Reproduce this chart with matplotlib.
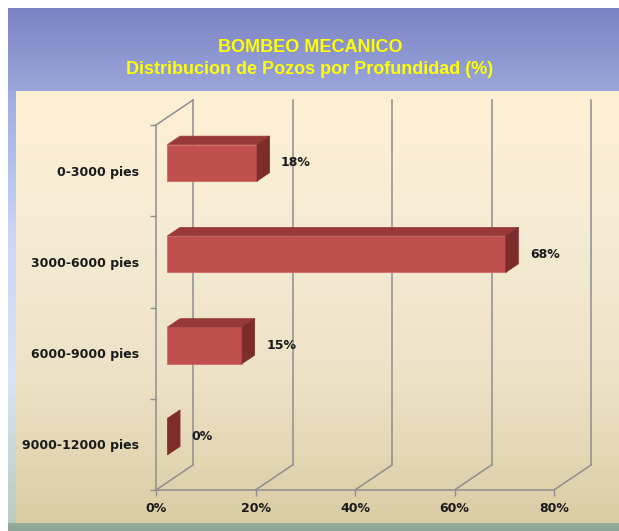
import numpy as np
import matplotlib
matplotlib.use("Agg")
import matplotlib.pyplot as plt
from matplotlib.colors import LinearSegmentedColormap
from matplotlib.patches import Polygon

# ==========================================
# Data
# ==========================================

categories = [
    "0-3000 pies",
    "3000-6000 pies",
    "6000-9000 pies",
    "9000-12000 pies"
]

values = [18, 68, 15, 0]

value_labels = ["18%", "68%", "15%", "0%"]

x_ticks = [0, 20, 40, 60, 80]
x_tick_labels = ["0%", "20%", "40%", "60%", "80%"]

title_1 = "BOMBEO MECANICO"
title_2 = "Distribucion de Pozos por Profundidad (%)"

# ==========================================
# Style
# ==========================================

W, H = 619, 531
DPI = 100

FRONT = "#C0504D"
TOP = "#973937"
SIDE = "#7D2C2A"
GRID = "#8E8E8E"
TXT = "#1A1A1A"

# depth of the 3d box in pixels (right, up)
DEPTH_PX = (37, 25)
BAR_F0 = 0.31
BAR_F1 = 0.65
BAR_H = 0.2

fig = plt.figure(figsize=(W / DPI, H / DPI), dpi=DPI)
fig.patch.set_facecolor("white")

# ==========================================
# Background (slide frame)
# ==========================================

bg = fig.add_axes([0, 0, 1, 1], zorder=-5)
bg.axis("off")


def vgrad(colors, extent):
    cmap = LinearSegmentedColormap.from_list("g", colors)
    grad = np.linspace(0, 1, 256).reshape(-1, 1)
    bg.imshow(grad, cmap=cmap, aspect="auto", extent=extent,
              interpolation="bicubic")


# blue title band
vgrad(["#7C83C3", "#9AA6DB"], (8, W, 91, 8))
# left strip
vgrad(["#9EABE2", "#C9D6F5", "#D9E3F6", "#B9CCC0"], (8, 16, 523, 91))
# cream plot area
vgrad(["#FEF0D4", "#F5EBD4", "#EDE2C6", "#DACDA5"], (16, W, 523, 91))
# bottom strip
vgrad(["#93AC9C", "#8BA493"], (8, W, H, 523))
bg.set_xlim(0, W)
bg.set_ylim(H, 0)

for yy, t in [(47, title_1), (70, title_2)]:
    fig.text(
        310 / W, 1 - yy / H,
        t,
        ha="center", va="center",
        color="#FFFF00",
        fontsize=13,
        fontweight="bold",
        family="Liberation Sans"
    )

# ==========================================
# Main axes (front plane)
# ==========================================

x0, x1 = 156, 554
y0, y1 = 490, 125

ax = fig.add_axes([x0 / W, 1 - y0 / H, (x1 - x0) / W, (y0 - y1) / H])
ax.set_facecolor("none")
ax.set_xlim(0, 80)
ax.set_ylim(0, 4)

# pixel depth -> data units
dx = DEPTH_PX[0] * 80 / (x1 - x0)
dy = DEPTH_PX[1] * 4 / (y0 - y1)

n = len(categories)
ypos = [n - 0.5 - i for i in range(n)]

# back wall gridlines + floor diagonals
for xt in x_ticks:
    ax.plot([xt + dx, xt + dx], [dy, 4 + dy], color=GRID, lw=1.1,
            clip_on=False, zorder=1)
    ax.plot([xt, xt + dx], [0, dy], color=GRID, lw=1.1,
            clip_on=False, zorder=1)

# left wall top edge
ax.plot([0, dx], [4, 4 + dy], color=GRID, lw=1.1, clip_on=False, zorder=1)

# bars
for yc, v in zip(ypos, values):
    ax0, ay0 = BAR_F0 * dx, yc - BAR_H + BAR_F0 * dy
    ax1, ay1 = BAR_F1 * dx, yc - BAR_H + BAR_F1 * dy
    hh = 2 * BAR_H
    front = [(ax0, ay0), (ax0 + v, ay0), (ax0 + v, ay0 + hh), (ax0, ay0 + hh)]
    top = [(ax0, ay0 + hh), (ax0 + v, ay0 + hh), (ax1 + v, ay1 + hh), (ax1, ay1 + hh)]
    side = [(ax0 + v, ay0), (ax1 + v, ay1), (ax1 + v, ay1 + hh), (ax0 + v, ay0 + hh)]
    if v > 0:
        ax.add_patch(Polygon(front, closed=True, facecolor=FRONT,
                             edgecolor="#D36A66", lw=0.6, zorder=3, clip_on=False))
        ax.add_patch(Polygon(top, closed=True, facecolor=TOP,
                             edgecolor=TOP, lw=0.5, zorder=3, clip_on=False))
    ax.add_patch(Polygon(side, closed=True, facecolor=SIDE,
                         edgecolor=SIDE, lw=0.5, zorder=3, clip_on=False))

# data labels
for yc, v, lab in zip(ypos, values, value_labels):
    ax.annotate(
        lab,
        xy=(v + BAR_F0 * dx, yc + BAR_F0 * dy),
        xytext=(24, 0), textcoords="offset pixels",
        ha="left", va="center",
        fontsize=9, fontweight="bold", color=TXT,
        annotation_clip=False
    )

# axes: spines and ticks
for s in ["top", "right"]:
    ax.spines[s].set_visible(False)
for s in ["left", "bottom"]:
    ax.spines[s].set_color(GRID)
    ax.spines[s].set_linewidth(1.1)

ax.set_xticks(x_ticks)
ax.set_xticklabels(x_tick_labels, fontsize=9, fontweight="bold", color=TXT)
ax.tick_params(axis="x", length=4, width=1, color=GRID, pad=5)

ax.set_yticks(ypos)
ax.set_yticklabels(categories, fontsize=9, fontweight="bold", color=TXT)
ax.set_yticks(range(n + 1), minor=True)
ax.tick_params(axis="y", which="major", length=0, pad=12)
ax.tick_params(axis="y", which="minor", length=4, width=1, color=GRID)

fig.savefig("out.png", dpi=DPI)
